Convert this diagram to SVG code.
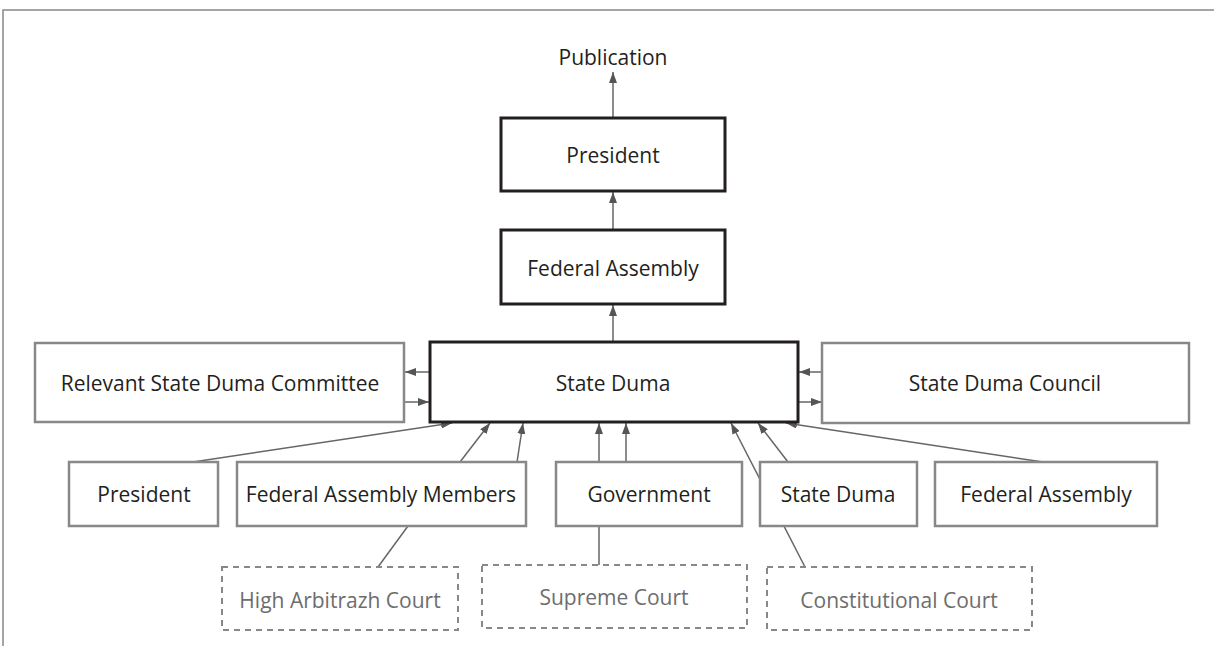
<svg xmlns="http://www.w3.org/2000/svg" width="1214" height="646" viewBox="0 0 1214 646">
<style>
.t{font-family:"Open Sans","Noto Sans","Liberation Sans",sans-serif;font-size:21px;fill:#231f20;text-anchor:middle;dominant-baseline:central}
.td{fill:#6d6d6d}
.main{fill:#fff;stroke:#231f20;stroke-width:3}
.sub{fill:#fff;stroke:#888;stroke-width:2.5}
.dash{fill:#fff;stroke:#888;stroke-width:2;stroke-dasharray:6 5}
.c{stroke:#666;stroke-width:1.5;fill:none}
.a{marker-end:url(#ah)}
</style>
<defs>
<marker id="ah" viewBox="0 0 11 8" refX="11" refY="4" markerWidth="11" markerHeight="8" markerUnits="userSpaceOnUse" orient="auto">
<path d="M0,0 L11,4 L0,8 z" fill="#555"/>
</marker>
</defs>
<rect width="1214" height="646" fill="#fff"/>
<path d="M3,646 V10 H1214" fill="none" stroke="#888" stroke-width="1.5"/>
<g id="connectors">
<line class="c a" x1="613" y1="118" x2="613" y2="72"/>
<line class="c a" x1="613" y1="230" x2="613" y2="192"/>
<line class="c a" x1="613" y1="342" x2="613" y2="305"/>
<line class="c a" x1="429" y1="372" x2="405" y2="372"/>
<line class="c a" x1="405" y1="402" x2="429" y2="402"/>
<line class="c a" x1="822" y1="372" x2="799" y2="372"/>
<line class="c a" x1="799" y1="402" x2="822" y2="402"/>
<line class="c a" x1="193" y1="462" x2="452" y2="423"/>
<line class="c a" x1="460" y1="462" x2="490" y2="423"/>
<line class="c a" x1="517" y1="462" x2="523" y2="423"/>
<line class="c a" x1="599" y1="462" x2="599" y2="423"/>
<line class="c a" x1="626" y1="462" x2="626" y2="423"/>
<line class="c a" x1="805" y1="567" x2="731" y2="423"/>
<line class="c a" x1="788" y1="462" x2="758" y2="423"/>
<line class="c a" x1="1043" y1="462" x2="786" y2="423"/>
<line class="c" x1="599" y1="565" x2="599" y2="526"/>
<line class="c" x1="378" y1="567" x2="408" y2="526"/>
</g>
<g id="publication"><text class="t" x="613" y="57">Publication</text></g>
<g id="president-top"><rect class="main" x="501" y="118" width="224" height="73"/><text class="t" x="613" y="155">President</text></g>
<g id="federal-assembly-top"><rect class="main" x="501" y="230" width="224" height="74"/><text class="t" x="613" y="268">Federal Assembly</text></g>
<g id="state-duma"><rect class="main" x="430" y="342" width="368" height="80"/><text class="t" x="613" y="383">State Duma</text></g>
<g id="committee"><rect class="sub" x="35" y="343" width="369" height="79"/><text class="t" x="220" y="383">Relevant State Duma Committee</text></g>
<g id="council"><rect class="sub" x="822" y="343" width="367" height="80"/><text class="t" x="1005" y="383">State Duma Council</text></g>
<g id="president-init"><rect class="sub" x="69" y="462" width="149" height="64"/><text class="t" x="144" y="494">President</text></g>
<g id="fa-members"><rect class="sub" x="237" y="462" width="289" height="64"/><text class="t" x="381" y="494">Federal Assembly Members</text></g>
<g id="government"><rect class="sub" x="556" y="462" width="186" height="64"/><text class="t" x="649" y="494">Government</text></g>
<g id="state-duma-init"><rect class="sub" x="760" y="462" width="157" height="64"/><text class="t" x="838" y="494">State Duma</text></g>
<g id="fa-init"><rect class="sub" x="935" y="462" width="222" height="64"/><text class="t" x="1046" y="494">Federal Assembly</text></g>
<g id="high-arbitrazh"><rect class="dash" x="222" y="567" width="236" height="63"/><text class="t td" x="340" y="600">High Arbitrazh Court</text></g>
<g id="supreme"><rect class="dash" x="482" y="565" width="265" height="63"/><text class="t td" x="614" y="597">Supreme Court</text></g>
<g id="constitutional"><rect class="dash" x="767" y="567" width="265" height="63"/><text class="t td" x="899" y="600">Constitutional Court</text></g>
</svg>
